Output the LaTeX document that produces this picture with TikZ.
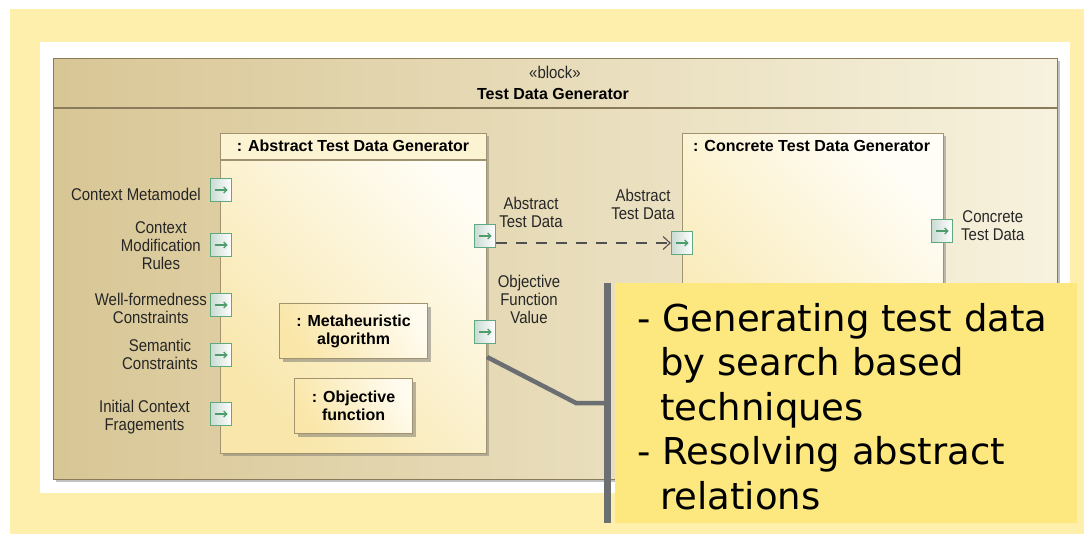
\documentclass[tikz,border=0pt]{standalone}
\usepackage{fontspec}
\usetikzlibrary{arrows.meta,shadows,calc}
\newfontfamily\lblfont{Liberation Sans}[FakeStretch=0.88]
\newfontfamily\ttlfont{Liberation Sans}
\newfontfamily\notefont{DejaVu Sans}
\definecolor{pagebg}{HTML}{FEF0AC}
\definecolor{frameline}{HTML}{8A7B5B}
\definecolor{partline}{HTML}{A19370}
\definecolor{blkL}{HTML}{D8C695}
\definecolor{blkR}{HTML}{F7F2DE}
\definecolor{partA}{HTML}{F8E6AA}
\definecolor{partB}{HTML}{FFFDF5}
\definecolor{parthdr}{HTML}{FCF3D3}
\definecolor{innerA}{HTML}{FAE6A8}
\definecolor{innerB}{HTML}{FFFBEE}
\definecolor{portline}{HTML}{5FA880}
\definecolor{portfill}{HTML}{C9DBD3}
\definecolor{portarrowc}{HTML}{4E9C6E}
\definecolor{notefill}{HTML}{FCE87F}
\definecolor{notebarc}{HTML}{6C6F72}
\definecolor{linkc}{HTML}{505050}
\tikzset{
  lbl/.style={font=\lblfont\fontsize{17}{18}\selectfont, align=center, inner sep=0pt, text=black!85},
  ttl/.style={font=\ttlfont\bfseries\fontsize{16}{18}\selectfont, align=center, inner sep=0pt},
  partbox/.style={anchor=north west, draw=partline, line width=1.2pt, inner sep=0pt,
    top color=partA, bottom color=partB, shading angle=135,
    drop shadow={shadow xshift=2.5pt, shadow yshift=-2.5pt, opacity=0.4, fill=black!60}},
  innerbox/.style={anchor=north west, draw=partline, line width=1.1pt, inner sep=0pt,
    top color=innerA, bottom color=innerB, shading angle=120,
    drop shadow={shadow xshift=3pt, shadow yshift=-3pt, opacity=0.45, fill=black!60}},
  port/.style={draw=portline, line width=1.2pt, minimum width=21pt, minimum height=23pt, inner sep=0pt,
    left color=portfill, right color=white,
    path picture={\draw[portarrowc, line width=1.2pt, -{Straight Barb[length=3pt,width=6pt]}]
      ([xshift=-6.5pt]path picture bounding box.center) -- ([xshift=6.5pt]path picture bounding box.center);}},
  flow/.style={linkc, line width=1.1pt, dash pattern=on 11pt off 9pt,
    -{Straight Barb[length=7pt,width=13pt]}},
}
\begin{document}
\begin{tikzpicture}[x=1pt, y=-1pt]
\useasboundingbox (0,0) rectangle (1084,534);
% page and panel
\fill[white] (0,0) rectangle (1084,534);
\fill[pagebg] (10,9) rectangle (1084,534);
\fill[white] (40,42) rectangle (1070,493);

% outer block with its header compartment
\node[anchor=north west, minimum width=1004pt, minimum height=421pt, inner sep=0pt,
  left color=blkL, right color=blkR, draw=frameline, line width=1.3pt,
  drop shadow={shadow xshift=2pt, shadow yshift=-2pt, opacity=0.4, fill=black!60}] (block) at (53,58) {};
\draw[frameline, line width=1.2pt] ($(block.north west)+(0,50)$) -- ($(block.north east)+(0,50)$);
\node[lbl] (stereo) at (555,72) {«block»};
\node[ttl] (blockname) at (553,94) {Test Data Generator};

% abstract generator part
\node[partbox, minimum width=266pt, minimum height=320pt,
  path picture={\fill[parthdr] (path picture bounding box.north west) rectangle ([yshift=-27pt]path picture bounding box.north east);}] (abs) at (220,133) {};
\draw[partline, line width=1.1pt] ($(abs.north west)+(0,27)$) -- ($(abs.north east)+(0,27)$);
\node[ttl] (abstitle) at (353,146) {: Abstract Test Data Generator};

\node[innerbox, minimum width=148pt, minimum height=55pt] (meta) at (279,303) {};
\node[ttl] (metatext) at (meta.center) {: Metaheuristic\\algorithm};
\node[innerbox, minimum width=118pt, minimum height=55pt] (objf) at (294,378) {};
\node[ttl] (objftext) at (objf.center) {: Objective\\function};

% concrete generator part
\node[partbox, minimum width=261pt, minimum height=320pt] (con) at (682,133) {};
\node[ttl, anchor=west] (contitle) at (693,146) {: Concrete Test Data Generator};

% input ports of the abstract generator
\node[port] (in1) at (221,190) {};
\node[port] (in2) at (221,245) {};
\node[port] (in3) at (221,305) {};
\node[port] (in4) at (221,355) {};
\node[port] (in5) at (221,414) {};
\node[lbl, anchor=east] (l1) at (201,194) {Context Metamodel};
\node[lbl, anchor=east] (l2) at (201,246) {Context\\Modification\\Rules};
\node[lbl, anchor=east] (l3) at (207,308) {Well-formedness\\Constraints};
\node[lbl, anchor=east] (l4) at (198,354) {Semantic\\Constraints};
\node[lbl, anchor=east] (l5) at (190,417) {Initial Context\\Fragements};

% output ports of the abstract generator
\node[port] (out1) at (485,236) {};
\node[port] (out2) at (485,332) {};
\node[lbl] (lo1) at (531,212) {Abstract\\Test Data};
\node[lbl] (lo2) at (529,299) {Objective\\Function\\Value};

% ports of the concrete generator
\node[port] (cin) at (682,243) {};
\node[port] (cout) at (942,231) {};
\node[lbl] (lci) at (643,204) {Abstract\\Test Data};
\node[lbl, anchor=west] (lco) at (961,226) {Concrete\\Test Data};

% data flow between the parts
\draw[flow] (out1.east |- cin.west) -- (cin.west);

% annotation
\node[anchor=north west, fill=notefill, minimum width=462pt, minimum height=240pt, inner sep=0pt] (note) at (615,283) {};
\node[anchor=north west, fill=notebarc, minimum width=6.5pt, minimum height=240pt, inner sep=0pt] (bar) at (604,283) {};
\coordinate (ptrA) at (487,357);
\coordinate (ptrB) at (576,403);
\draw[notebarc, line width=4.5pt] (ptrA) -- (ptrB) -- (ptrB -| bar.west);
\node[anchor=north west, align=left, inner sep=0pt, font=\notefont\fontsize{37}{44.5}\selectfont] (notetext) at (637,303)
  {- Generating test data\\\hspace*{23pt}by search based\\\hspace*{23pt}techniques\\- Resolving abstract\\\hspace*{23pt}relations};
\end{tikzpicture}
\end{document}
